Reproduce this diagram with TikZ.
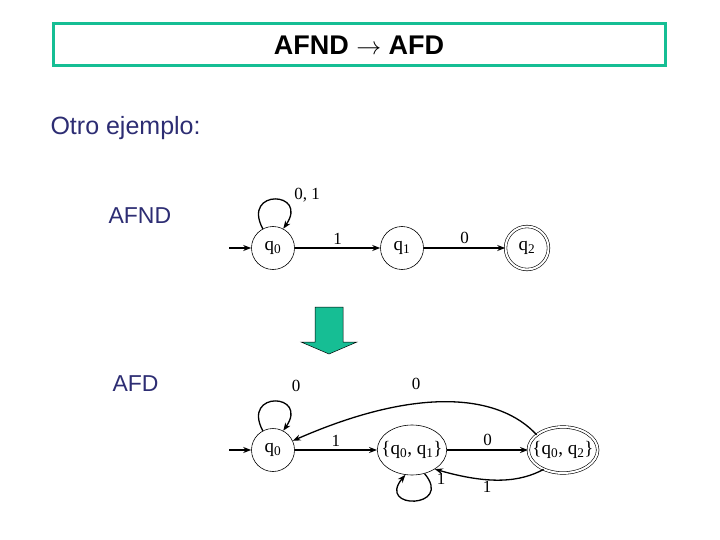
\documentclass[tikz,border=0pt]{standalone}
\usepackage{fontspec}
\setmainfont{Liberation Serif}
\newfontfamily\sansf{Liberation Sans}
\usetikzlibrary{arrows.meta,shapes.geometric}
\definecolor{teal1}{RGB}{22,190,148}
\definecolor{navy1}{RGB}{45,45,115}
\tikzset{
  st/.style={draw,circle,line width=0.6pt,minimum size=43pt,inner sep=0pt,font=\fontsize{19}{19}\selectfont},
  ste/.style={draw,ellipse,line width=0.6pt,minimum width=66pt,minimum height=50pt,inner xsep=-6pt,inner ysep=0pt,font=\fontsize{19}{19}\selectfont},
  tr/.style={line width=1.3pt,-{Stealth[length=8pt,width=6pt]}},
  lb/.style={font=\fontsize{17}{17}\selectfont},
  side/.style={text=navy1,font=\sansf\fontsize{23}{23}\selectfont,anchor=west}
}
\newcommand{\qs}[1]{q\textsubscript{#1}}
\begin{document}
\begin{tikzpicture}[x=1pt,y=-1pt]
\useasboundingbox (0,0) rectangle (720,540);
% title
\node[draw=teal1,line width=2.8pt,minimum width=612pt,minimum height=42pt,inner sep=0pt] (title) at (359.5,44.5) {};
\node[font=\sansf\bfseries\fontsize{27}{27}\selectfont] (tt) at (359,45) {AFND $\rightarrow$ AFD};
\node[side,font=\sansf\fontsize{25}{25}\selectfont] (otro) at (47,128) {Otro ejemplo:};
\node[side] (lafnd) at (105,216) {AFND};
\node[side] (lafd) at (109,384) {AFD};
% AFND
\node[st] (a0) at (273,248) {\qs{0}};
\node[st] (a1) at (402,248) {\qs{1}};
\node[st,double,double distance=2pt] (a2) at (527,248) {\qs{2}};
\coordinate (ai) at (229,248);
\draw[tr] (ai) -- (a0);
\draw[tr] (a0) -- node[lb,above] {1} (a1);
\draw[tr] (a1) -- node[lb,above] {0} (a2);
\draw[tr] (a0.118) .. controls +(-118:46) and +(-55:46) .. (a0.62);
\node[lb] (l01) at (307,195) {0, 1};
% arrow
\draw[fill=teal1,line width=0.5pt] (315,307) -- (343,307) -- (343,342) -- (357,342) -- (329,354) -- (301,342) -- (315,342) -- cycle;
% AFD
\node[st] (d0) at (273,450) {\qs{0}};
\node[ste] (d1) at (412,450) {\{\qs{0}, \qs{1}\}};
\node[ste,double,double distance=2pt,minimum width=64pt,minimum height=46pt] (d2) at (563,450) {\{\qs{0}, \qs{2}\}};
\coordinate (di) at (229,450);
\draw[tr] (di) -- (d0);
\draw[tr] (d0) -- node[lb,above] {1} (d1);
\draw[tr] (d1) -- node[lb,above] {0} (d2);
\draw[tr] (d0.118) .. controls +(-118:46) and +(-55:46) .. (d0.62);
\node[lb] (l0) at (296,386) {0};
\draw[tr] (d2.150) .. controls (500,395) and (420,385) .. (d0.25);
\node[lb] (l0b) at (416,384) {0};
\draw[tr] (d2.225) .. controls (520,482) and (490,485) .. (d1.-40);
\node[lb] (l1b) at (487,487) {1};
\draw[tr] (d1.-62) .. controls +(50:46) and +(130:46) .. (d1.-105);
\node[lb] (l1c) at (441,479) {1};
\end{tikzpicture}
\end{document}
